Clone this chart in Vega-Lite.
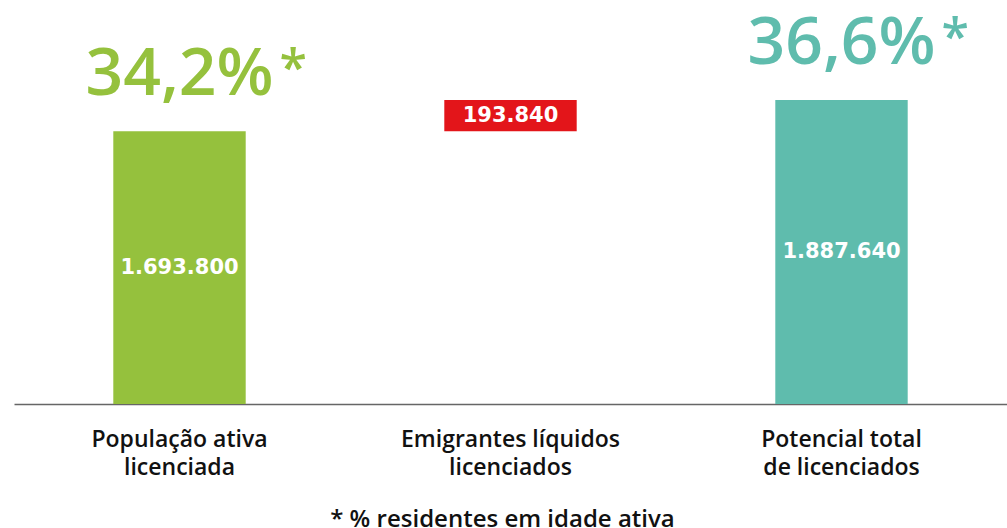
{
  "$schema": "https://vega.github.io/schema/vega-lite/v6.json",
  "width": 993,
  "height": 404,
  "autosize": {"type": "none"},
  "padding": {"left": 14, "top": 0, "right": 0, "bottom": 124},
  "background": "white",
  "config": {"view": {"stroke": null}, "font": "Open Sans"},
  "title": {
    "text": "* % residentes em idade ativa",
    "orient": "bottom",
    "anchor": "middle",
    "fontSize": 24,
    "fontWeight": 600,
    "color": "#111111",
    "font": "Open Sans",
    "offset": 29,
    "dx": -8
  },
  "data": {
    "values": [
      {"cat": "População ativa|licenciada", "start": 0, "end": 1693800, "label": "1.693.800", "pct": "34,2%", "color": "#95C13D"},
      {"cat": "Emigrantes líquidos|licenciados", "start": 1693800, "end": 1887640, "label": "193.840", "pct": null, "color": "#E3151A"},
      {"cat": "Potencial total|de licenciados", "start": 0, "end": 1887640, "label": "1.887.640", "pct": "36,6%", "color": "#5FBCAD"}
    ]
  },
  "transform": [{"calculate": "(datum.start + datum.end) / 2", "as": "mid"}],
  "encoding": {
    "x": {
      "field": "cat",
      "type": "nominal",
      "sort": null,
      "scale": {"paddingInner": 0.6, "paddingOuter": 0.3},
      "axis": {
        "title": null,
        "labelAngle": 0,
        "labelExpr": "split(datum.value, '|')",
        "labelFontSize": 23,
        "labelFont": "Open Sans",
        "labelFontWeight": 600,
        "labelColor": "#111111",
        "labelLineHeight": 28,
        "labelPadding": 24,
        "labelLimit": 400,
        "ticks": false,
        "domainColor": "#666666",
        "domainWidth": 1.5
      }
    }
  },
  "layer": [
    {
      "mark": {"type": "bar"},
      "encoding": {
        "y": {"field": "start", "type": "quantitative", "scale": {"domain": [0, 2508400], "nice": false, "zero": true}, "axis": null},
        "y2": {"field": "end"},
        "color": {"field": "color", "type": "nominal", "scale": null}
      }
    },
    {
      "mark": {"type": "text", "color": "white", "fontSize": 21, "fontWeight": "bold", "font": "DejaVu Sans", "baseline": "middle"},
      "encoding": {
        "y": {"field": "mid", "type": "quantitative"},
        "text": {"field": "label"}
      }
    },
    {
      "transform": [{"filter": "datum.pct != null"}],
      "mark": {"type": "text", "fontSize": 66, "font": "Open Sans", "fontWeight": 600, "baseline": "alphabetic", "dy": -36},
      "encoding": {
        "y": {"field": "end", "type": "quantitative"},
        "text": {"field": "pct"},
        "color": {"field": "color", "type": "nominal", "scale": null}
      }
    },
    {
      "transform": [{"filter": "datum.pct != null"}],
      "mark": {"type": "text", "fontSize": 50, "font": "Open Sans", "fontWeight": 600, "baseline": "top", "align": "left", "dx": 100, "dy": -86},
      "encoding": {
        "y": {"field": "end", "type": "quantitative"},
        "text": {"value": "*"},
        "color": {"field": "color", "type": "nominal", "scale": null}
      }
    }
  ]
}
